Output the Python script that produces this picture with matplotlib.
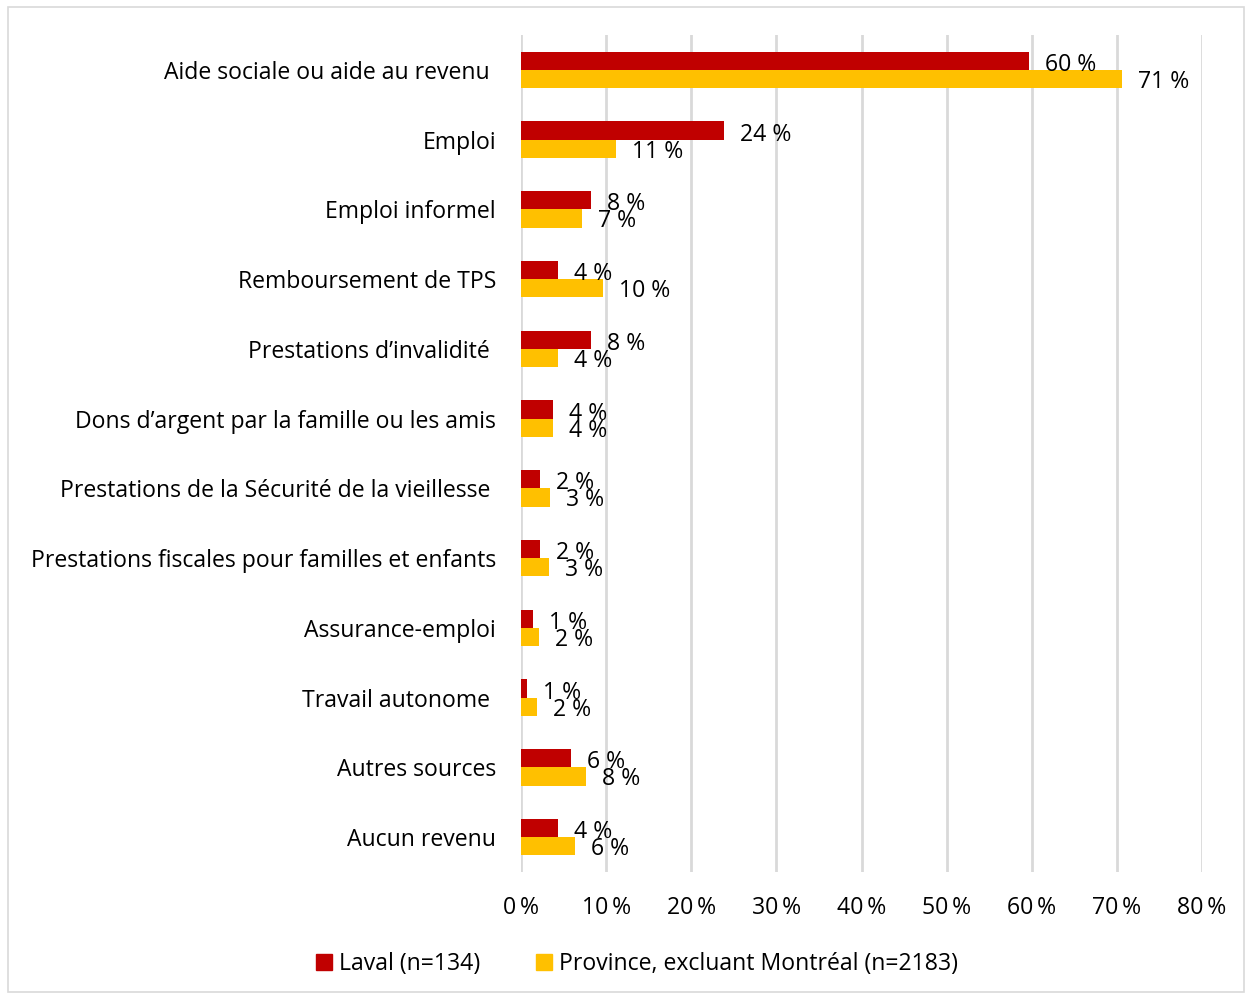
import matplotlib
matplotlib.use("Agg")
import matplotlib.pyplot as plt
from matplotlib.patches import Rectangle
import numpy as np

categories = [
    "Aide sociale ou aide au revenu ",
    "Emploi",
    "Emploi informel",
    "Remboursement de TPS",
    "Prestations d\u2019invalidité ",
    "Dons d\u2019argent par la famille ou les amis",
    "Prestations de la Sécurité de la vieillesse ",
    "Prestations fiscales pour familles et enfants",
    "Assurance-emploi",
    "Travail autonome ",
    "Autres sources",
    "Aucun revenu",
]
laval = [59.7, 23.9, 8.2, 4.4, 8.2, 3.8, 2.2, 2.2, 1.4, 0.7, 5.9, 4.4]
province = [70.6, 11.2, 7.2, 9.6, 4.3, 3.8, 3.4, 3.3, 2.1, 1.9, 7.6, 6.3]
series_names = ["Laval (n=134)", "Province, excluant Montréal (n=2183)"]
x_ticks = [0, 10, 20, 30, 40, 50, 60, 70, 80]

RED = "#C00000"
GOLD = "#FFC000"
FONT = "Open Sans"
plt.rcParams["font.family"] = [FONT, "DejaVu Sans"]

fig = plt.figure(figsize=(12.52, 9.93), dpi=100)
ax = fig.add_axes([521 / 1252, 1 - 872 / 993, (1202 - 521) / 1252, (872 - 35) / 993])

n = len(categories)
y = np.arange(n)
h = 0.26
ax.barh(y - h / 2, laval, height=h, color=RED, zorder=3)
ax.barh(y + h / 2, province, height=h, color=GOLD, zorder=3)

fs = 16.6
for yi, v in zip(y, laval):
    ax.annotate(f"{v:.0f} %", (v, yi - h / 2), xytext=(16, -4), textcoords="offset pixels",
                va="center", ha="left", fontsize=fs, color="black", zorder=4)
for yi, v in zip(y, province):
    ax.annotate(f"{v:.0f} %", (v, yi + h / 2), xytext=(16, -3), textcoords="offset pixels",
                va="center", ha="left", fontsize=fs, color="black", zorder=4)

ax.set_xlim(0, 80)
ax.set_ylim(n - 0.5, -0.5)
ax.set_xticks(x_ticks)
ax.set_xticklabels([f"{t}\u2009%" for t in x_ticks], fontsize=fs)
ax.set_yticks(y)
ax.set_yticklabels(categories, fontsize=fs)
ax.tick_params(axis="both", length=0)
ax.tick_params(axis="x", pad=17)
ax.tick_params(axis="y", pad=18)
ax.grid(axis="x", color="#D9D9D9", linewidth=2, zorder=0)
for s in ax.spines.values():
    s.set_visible(False)

# chart border
fig.patches.append(Rectangle((8 / 1252, 1 - 992 / 993), 1236 / 1252, 985 / 993,
                             transform=fig.transFigure, fill=False,
                             edgecolor="#D9D9D9", linewidth=1.2))

# legend
handles = [Rectangle((0, 0), 1, 1, color=RED), Rectangle((0, 0), 1, 1, color=GOLD)]
fig.legend(handles, series_names, loc="center", bbox_to_anchor=(637 / 1252, 1 - 964 / 993),
           ncol=2, frameon=False, fontsize=fs, handlelength=0.7, handleheight=0.7,
           handletextpad=0.3, columnspacing=2.4)

fig.savefig("out.png", dpi=100)
